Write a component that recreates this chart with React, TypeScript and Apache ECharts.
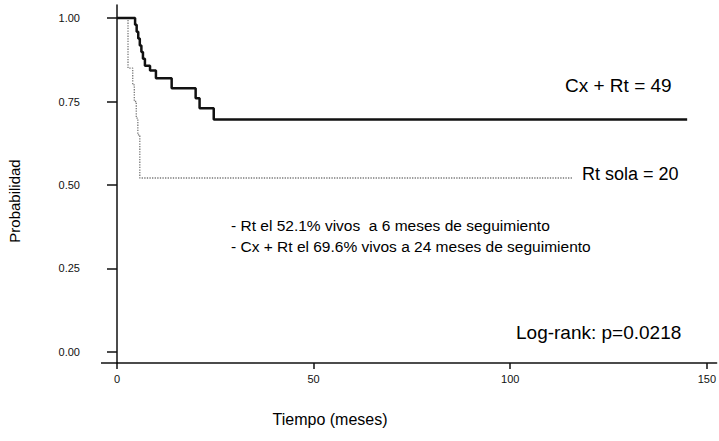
import React, { useEffect, useRef } from "react";
import * as echarts from "echarts";

// Kaplan-Meier curves (time in months, survival probability)
const cxRtTimes = [0, 4.6, 5.0, 5.4, 5.8, 6.2, 6.6, 7.1, 8.4, 9.9, 13.9, 20.0, 21.0, 24.6, 145];
const cxRtSurv = [1, 0.98, 0.959, 0.939, 0.918, 0.898, 0.878, 0.857, 0.843, 0.82, 0.79, 0.76, 0.73, 0.696, 0.696];

const rtTimes = [0, 2.8, 4.0, 4.4, 4.9, 5.3, 5.8, 116];
const rtSurv = [1, 0.85, 0.8, 0.75, 0.7, 0.65, 0.521, 0.521];

const xTicks = [0, 50, 100, 150];
const yTicks = [0, 0.25, 0.5, 0.75, 1];

const labelCxRt = "Cx + Rt = 49";
const labelRt = "Rt sola = 20";
const note1 = "- Rt el 52.1% vivos  a 6 meses de seguimiento";
const note2 = "- Cx + Rt el 69.6% vivos a 24 meses de seguimiento";
const logRank = "Log-rank: p=0.0218";
const xTitle = "Tiempo (meses)";
const yTitle = "Probabilidad";

const FONT = "'Liberation Sans', Arial, sans-serif";

export default function App() {
  const ref = useRef<HTMLDivElement>(null);
  useEffect(() => {
    if (!ref.current) return;
    const chart = echarts.init(ref.current, undefined, { renderer: "svg" });
    const txt = (text: string, x: number, y: number, size: number, extra: any = {}) => ({
      type: "text",
      x,
      y,
      style: {
        text,
        fill: "#000",
        font: `${size}px ${FONT}`,
        textVerticalAlign: "middle",
        ...extra,
      },
    });
    chart.setOption({
      animation: false,
      backgroundColor: "#fff",
      grid: { left: 117, right: 0, top: 5, bottom: 78 },
      xAxis: [
        {
          type: "value",
          min: 0,
          max: 152.5,
          axisLine: { onZero: false, lineStyle: { color: "#111", width: 1.5 } },
          axisTick: { show: true, length: 6, customValues: xTicks, lineStyle: { color: "#111", width: 1.5 } },
          axisLabel: {
            customValues: xTicks,
            margin: 10,
            color: "#111",
            fontSize: 11,
            fontFamily: FONT,
            formatter: (v: number) => String(v),
          },
          splitLine: { show: false },
        },
      ],
      yAxis: {
        type: "value",
        min: -0.033,
        max: 1.039,
        axisLine: { show: true, onZero: false, lineStyle: { color: "#111", width: 1.5 } },
        axisTick: { show: true, length: 10, customValues: yTicks, lineStyle: { color: "#111", width: 1.5 } },
        axisLabel: {
          customValues: yTicks,
          margin: 37,
          color: "#111",
          fontSize: 11,
          fontFamily: FONT,
          formatter: (v: number) => v.toFixed(2),
        },
        splitLine: { show: false },
      },
      series: [
        {
          name: "Rt sola",
          type: "line",
          step: "end",
          showSymbol: false,
          data: rtTimes.map((t, i) => [t, rtSurv[i]]),
          lineStyle: { color: "#777", width: 1.3, type: "dotted" },
          z: 2,
        },
        {
          name: "Cx + Rt",
          type: "line",
          step: "end",
          showSymbol: false,
          data: cxRtTimes.map((t, i) => [t, cxRtSurv[i]]),
          lineStyle: { color: "#111", width: 2.5 },
          z: 3,
        },
      ],
      graphic: [
        // short left extension of the x-axis line beyond the y-axis
        {
          type: "line",
          shape: { x1: 101, y1: 363, x2: 118, y2: 363 },
          style: { stroke: "#111", lineWidth: 1.5 },
        },
        txt(labelCxRt, 565, 85, 19),
        txt(labelRt, 582, 174, 18),
        txt(note1, 231, 225, 15.5),
        txt(note2, 231, 246, 15.5),
        txt(logRank, 516, 332, 19),
        txt(xTitle, 330, 419, 16, { textAlign: "center" }),
        {
          type: "text",
          x: 14,
          y: 201,
          rotation: Math.PI / 2,
          style: {
            text: yTitle,
            fill: "#000",
            font: `15px ${FONT}`,
            textAlign: "center",
            textVerticalAlign: "middle",
          },
        },
      ],
    });
    return () => chart.dispose();
  }, []);
  return (
    <div
      ref={ref}
      style={{ position: "absolute", left: 0, top: 0, width: 719, height: 441 }}
    />
  );
}
